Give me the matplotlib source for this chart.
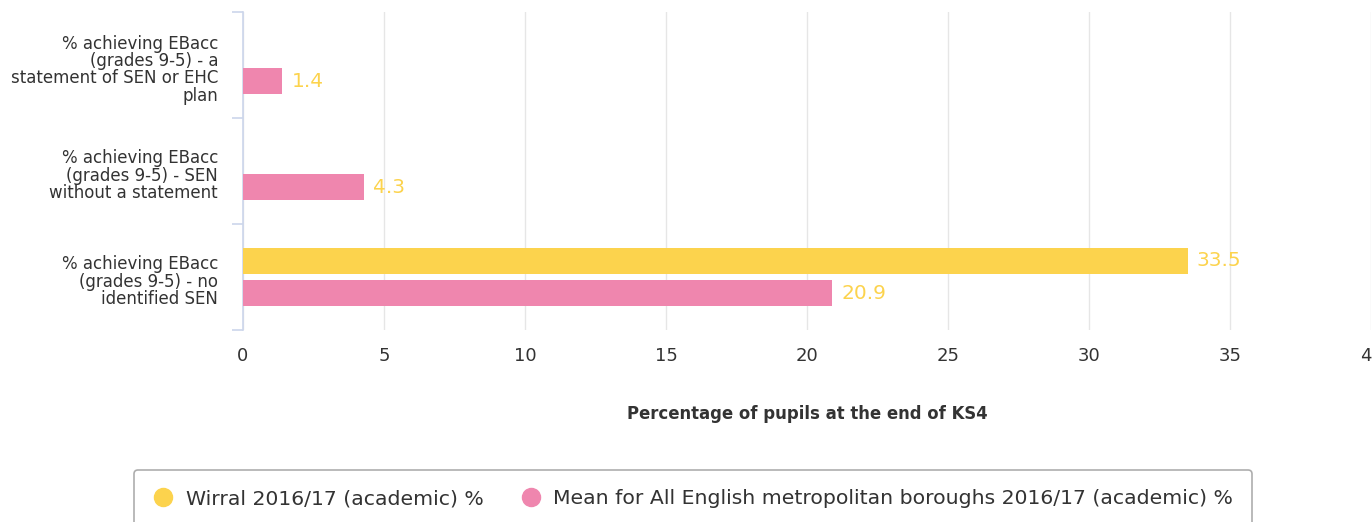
import numpy as np
import matplotlib
matplotlib.use('Agg')
import matplotlib.pyplot as plt
import matplotlib.transforms as mtransforms
from matplotlib.lines import Line2D

# Data
categories = ['% achieving EBacc\n(grades 9-5) - a\nstatement of SEN or EHC\nplan',
              '% achieving EBacc\n(grades 9-5) - SEN\nwithout a statement',
              '% achieving EBacc\n(grades 9-5) - no\nidentified SEN']
wirral = [np.nan, np.nan, 33.5]
mean_met = [1.4, 4.3, 20.9]
series_names = ['Wirral 2016/17 (academic) %',
                'Mean for All English metropolitan boroughs 2016/17 (academic) %']
xticks = [0, 5, 10, 15, 20, 25, 30, 35, 40]

YELLOW = '#fcd34d'
PINK = '#ef86ae'
TXT = '#333333'
AXIS = '#ccd6eb'

fig = plt.figure(figsize=(13.72, 5.22), dpi=100)
ax = fig.add_axes([243/1372, 1-330/522, (1371-243)/1372, (330-12)/522])

y = np.arange(len(categories))
h = 0.236
off = 0.151
ax.barh(y - off, wirral, height=h, color=YELLOW, zorder=3)
ax.barh(y + off, mean_met, height=h, color=PINK, zorder=3)

# data labels
for vals, dy in [(wirral, -off), (mean_met, off)]:
    for i, v in enumerate(vals):
        if np.isnan(v):
            continue
        ax.annotate(f'{v:.1f}', (v, i + dy), xytext=(6.5, 0), textcoords='offset points',
                    va='center', ha='left', color=YELLOW, fontsize=14.5, zorder=4)

ax.set_xlim(0, 40)
ax.set_ylim(2.5, -0.5)
ax.set_xticks(xticks)
ax.set_xticklabels([str(t) for t in xticks])
ax.tick_params(axis='x', length=0, pad=12, labelsize=13, colors=TXT)
ax.set_yticks(y)
ax.set_yticklabels(categories, fontsize=12, color=TXT, linespacing=0.96)
ax.tick_params(axis='y', which='major', length=0, pad=18)
ax.set_yticks([-0.5, 0.5, 1.5, 2.5], minor=True)
ax.tick_params(axis='y', which='minor', length=8, width=1.2, color=AXIS)
# nudge category labels down a little
shift = mtransforms.ScaledTranslation(0, -3/100, fig.dpi_scale_trans)
for lab in ax.get_yticklabels():
    lab.set_transform(lab.get_transform() + shift)

ax.grid(axis='x', color='#e6e6e6', linewidth=1, zorder=0)
for s in ['top', 'right', 'bottom']:
    ax.spines[s].set_visible(False)
ax.spines['left'].set_color(AXIS)
ax.spines['left'].set_linewidth(1.2)

ax.set_xlabel('Percentage of pupils at the end of KS4', fontsize=11.9,
              fontweight='bold', color=TXT, labelpad=29)

handles = [Line2D([], [], marker='o', linestyle='', markersize=13, color=c)
           for c in [YELLOW, PINK]]
leg = fig.legend(handles, series_names, loc='upper center',
                 bbox_to_anchor=(693/1372, 1-470/522), ncol=2, fontsize=14.7,
                 frameon=True, fancybox=True, edgecolor='#999999',
                 handlelength=1.0, handletextpad=0.6, columnspacing=1.8,
                 borderpad=0.95, borderaxespad=0, labelcolor=TXT)
leg.get_frame().set_linewidth(1.2)

fig.savefig('out.png', dpi=100)
